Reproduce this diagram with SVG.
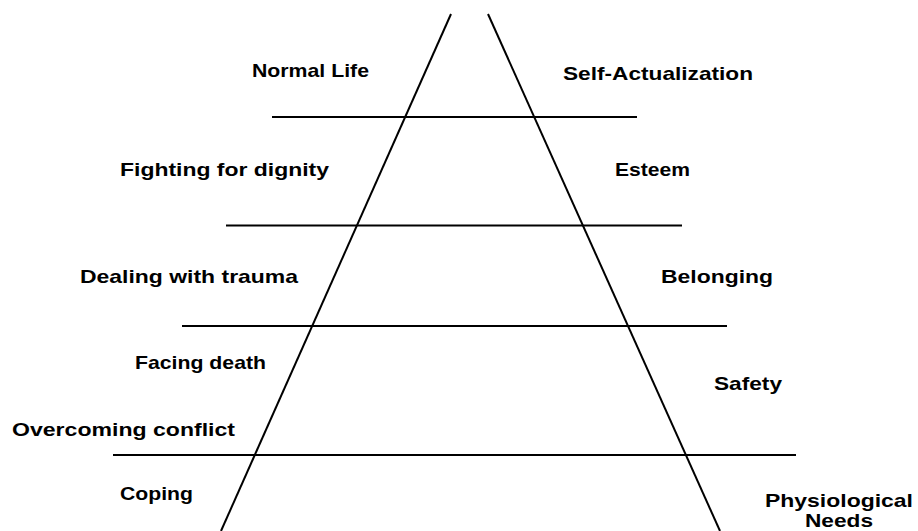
<svg xmlns="http://www.w3.org/2000/svg" width="918" height="531" viewBox="0 0 918 531">
  <style>
    .ln { stroke: #000; stroke-width: 2; fill: none; }
    .lbl { font-family: "Liberation Sans", Arial, sans-serif; font-weight: bold; font-size: 19px; fill: #000; }
  </style>
  <rect width="918" height="531" fill="#fff"/>
  <!-- pyramid sides and level dividers -->
  <g id="connectors">
    <line class="ln" x1="451" y1="14" x2="221" y2="531"/>
    <line class="ln" x1="488" y1="14" x2="720" y2="531"/>
    <line class="ln" x1="272" y1="117" x2="637" y2="117"/>
    <line class="ln" x1="226" y1="225.5" x2="682" y2="225.5"/>
    <line class="ln" x1="182" y1="326" x2="727" y2="326"/>
    <line class="ln" x1="113" y1="455" x2="796" y2="455"/>
  </g>
  <!-- left column: lived experience -->
  <g id="normal-life"><text class="lbl" x="252" y="77" textLength="117" lengthAdjust="spacingAndGlyphs">Normal Life</text></g>
  <g id="fighting-for-dignity"><text class="lbl" x="120" y="176" textLength="209" lengthAdjust="spacingAndGlyphs">Fighting for dignity</text></g>
  <g id="dealing-with-trauma"><text class="lbl" x="80" y="283" textLength="218" lengthAdjust="spacingAndGlyphs">Dealing with trauma</text></g>
  <g id="facing-death"><text class="lbl" x="135" y="369" textLength="131" lengthAdjust="spacingAndGlyphs">Facing death</text></g>
  <g id="overcoming-conflict"><text class="lbl" x="12" y="436" textLength="223" lengthAdjust="spacingAndGlyphs">Overcoming conflict</text></g>
  <g id="coping"><text class="lbl" x="120" y="500" textLength="73" lengthAdjust="spacingAndGlyphs">Coping</text></g>
  <!-- right column: hierarchy of needs -->
  <g id="self-actualization"><text class="lbl" x="563" y="80" textLength="190" lengthAdjust="spacingAndGlyphs">Self-Actualization</text></g>
  <g id="esteem"><text class="lbl" x="615" y="176" textLength="75" lengthAdjust="spacingAndGlyphs">Esteem</text></g>
  <g id="belonging"><text class="lbl" x="661" y="283" textLength="112" lengthAdjust="spacingAndGlyphs">Belonging</text></g>
  <g id="safety"><text class="lbl" x="714" y="390" textLength="68" lengthAdjust="spacingAndGlyphs">Safety</text></g>
  <g id="physiological-needs">
    <text class="lbl" x="765" y="507" textLength="148" lengthAdjust="spacingAndGlyphs">Physiological</text>
    <text class="lbl" x="805" y="527" textLength="68" lengthAdjust="spacingAndGlyphs">Needs</text>
  </g>
</svg>
